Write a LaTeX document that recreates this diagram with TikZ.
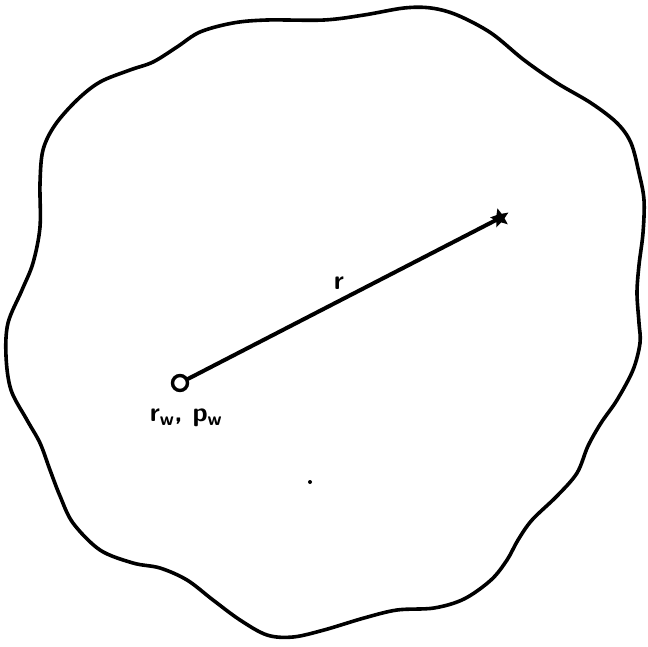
\documentclass[tikz,border=0pt]{standalone}
\usetikzlibrary{shapes.geometric}
\begin{document}
\begin{tikzpicture}[x=1pt,y=-1pt,
  boundary/.style={line width=3.6pt, line join=round},
  radial/.style={line width=4pt, line cap=round},
  wellmark/.style={circle, draw, line width=3.4pt, minimum size=15pt, inner sep=0pt},
  ptmark/.style={star, star points=5, star point ratio=2.2, fill=black, minimum size=20pt, inner sep=0pt, rotate=15},
  lab/.style={font=\sffamily\bfseries\fontsize{27}{30}\selectfont, inner sep=0pt}]
\useasboundingbox (0,0) rectangle (648,646);
\draw[boundary] plot[smooth cycle, tension=0.55] coordinates {
(324,20) (364,15) (404,8) (431,8) (457,15) (491,33) (524,60) (557,83) (591,103)
(617,123) (631,143) (639,173) (644,200) (643,233) (639,265) (637,293) (639,323)
(640,343) (633,370) (617,400) (601,423) (588,446) (577,473) (557,496) (532,520)
(518,540) (507,560) (491,580) (464,599) (434,608) (397,610) (364,618) (324,630)
(293,637) (267,635) (240,620) (213,600) (187,580) (160,568) (133,563) (100,550)
(73,523) (60,496) (50,470) (40,443) (27,420) (11,390) (6,356) (8,323) (22,290)
(33,263) (40,227) (40,183) (43,150) (55,125) (77,100) (100,82) (130,70) (153,62)
(177,47) (200,32) (233,23) (267,20)};
\node[wellmark] (well) at (180,383) {};
\node[ptmark] (pt) at (500,218) {};
\draw[radial] (well) -- (pt.center);
\node[lab] (rlab) at (339,283) {r};
\node[lab] (wlab) at (186,418) {r\textsubscript{w}, p\textsubscript{w}};
\fill (310,482) circle (2pt);
\end{tikzpicture}
\end{document}
